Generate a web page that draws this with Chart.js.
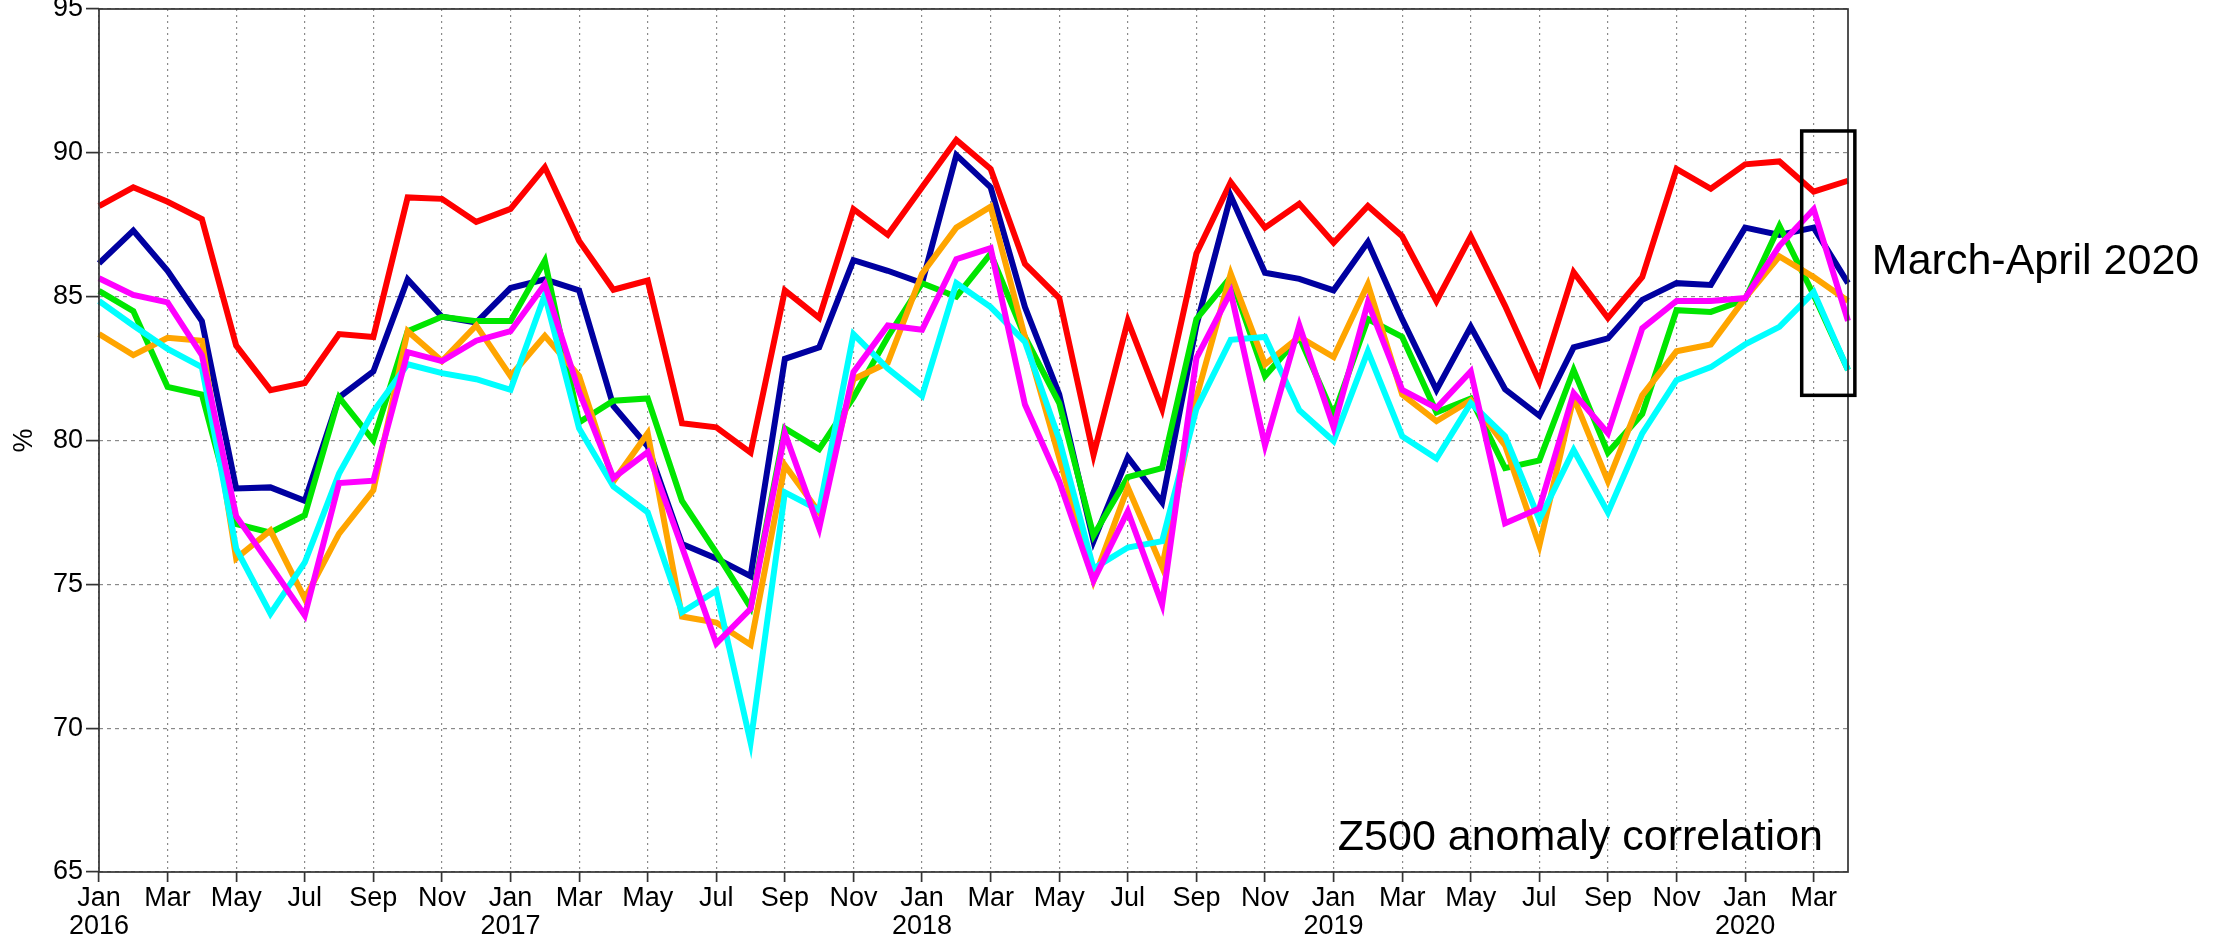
<!DOCTYPE html>
<html>
<head>
    <meta charset="UTF-8">
    <title>Z500 anomaly correlation</title>
    <script src="https://cdn.jsdelivr.net/npm/chart.js@4/dist/chart.umd.min.js"></script>
    <style type="text/css">
        body { margin: 0; background: #fff; }
        #wrap { width: 2228px; height: 943px; }
    </style>
</head>
<body>
<div id="wrap"><canvas id="chart" width="2228" height="943"></canvas></div>
<script type="text/javascript">
    // months Jan 2016 .. Apr 2020
    var monthNames = ["Jan", "Feb", "Mar", "Apr", "May", "Jun", "Jul", "Aug", "Sep", "Oct", "Nov", "Dec"];
    var years = [2016, 2017, 2018, 2019, 2020];
    var monthCount = 52;

    // y axis
    var yMin = 65, yMax = 95, yStep = 5;

    // series (anomaly correlation, %)
    var redValues = [88.15, 88.8, 88.3, 87.7, 83.3, 81.75, 82.0, 83.7, 83.6, 88.45, 88.4, 87.6,
        88.05, 89.5, 86.94, 85.24, 85.56, 80.6, 80.46, 79.58, 85.22, 84.26, 88.04, 87.15,
        88.8, 90.45, 89.44, 86.14, 84.95, 79.5, 84.16, 81.1, 86.5, 88.98, 87.4, 88.23,
        86.87, 88.15, 87.1, 84.85, 87.1, 84.68, 82.05, 85.85, 84.26, 85.68, 89.44, 88.75,
        89.6, 89.7, 88.65, 89.03];
    var navyValues = [86.16, 87.3, 85.9, 84.15, 78.33, 78.37, 77.9, 81.5, 82.4, 85.6, 84.3, 84.1,
        85.3, 85.6, 85.22, 81.2, 79.8, 76.4, 75.9, 75.28, 82.84, 83.24, 86.27, 85.9,
        85.47, 89.92, 88.8, 84.64, 81.6, 76.5, 79.42, 77.85, 84.0, 88.5, 85.83, 85.62,
        85.22, 86.9, 84.22, 81.76, 83.95, 81.78, 80.86, 83.24, 83.55, 84.89, 85.47, 85.41,
        87.4, 87.15, 87.4, 85.47];
    var greenValues = [85.2, 84.5, 81.86, 81.6, 77.1, 76.8, 77.4, 81.5, 80.0, 83.8, 84.3, 84.15,
        84.15, 86.25, 80.63, 81.38, 81.46, 77.9, 76.1, 74.2, 80.42, 79.7, 81.5, 83.6,
        85.47, 85.0, 86.5, 83.6, 81.3, 76.7, 78.73, 79.04, 84.22, 85.68, 82.24, 83.6,
        80.88, 84.22, 83.6, 80.98, 81.46, 79.04, 79.31, 82.45, 79.58, 80.92, 84.53, 84.47,
        84.9, 87.46, 85.06, 82.45];
    var orangeValues = [83.7, 82.97, 83.57, 83.47, 75.9, 76.87, 74.5, 76.76, 78.27, 83.8, 82.76, 84.0,
        82.24, 83.64, 82.24, 78.58, 80.25, 73.88, 73.67, 72.9, 79.14, 77.5, 82.13, 82.7,
        85.8, 87.4, 88.13, 83.6, 79.4, 75.13, 78.37, 75.6, 81.5, 85.8, 82.65, 83.6,
        82.9, 85.43, 81.6, 80.67, 81.4, 79.83, 76.35, 81.5, 78.58, 81.57, 83.1, 83.34,
        84.95, 86.4, 85.68, 84.85];
    var cyanValues = [84.85, 84.0, 83.18, 82.55, 76.24, 73.98, 75.76, 78.85, 81.0, 82.65, 82.34, 82.13,
        81.76, 85.06, 80.42, 78.4, 77.5, 74.03, 74.78, 69.5, 78.2, 77.58, 83.7, 82.5,
        81.55, 85.47, 84.64, 83.43, 80.04, 75.55, 76.28, 76.5, 81.1, 83.5, 83.6, 81.05,
        79.98, 83.1, 80.15, 79.37, 81.3, 80.15, 77.25, 79.67, 77.5, 80.25, 82.1, 82.55,
        83.34, 83.95, 85.16, 82.45];
    var magentaValues = [85.64, 85.06, 84.8, 82.97, 77.37, 75.66, 73.92, 78.52, 78.6, 83.07, 82.76, 83.47,
        83.8, 85.43, 81.7, 78.7, 79.6, 76.3, 72.94, 74.15, 80.25, 76.95, 82.38, 84.0,
        83.85, 86.3, 86.69, 81.25, 78.58, 75.13, 77.54, 74.3, 82.86, 85.16, 79.83, 84.0,
        80.46, 84.8, 81.76, 81.13, 82.4, 77.12, 77.64, 81.65, 80.25, 83.9, 84.85, 84.85,
        84.95, 86.77, 88.04, 84.16];

    // highlighted period box (month index / %)
    var boxFrom = 49.65, boxTo = 51.2, boxTop = 90.76, boxBottom = 81.57;
    var boxLabel = "March-April 2020";
    var boxLabelAt = 85.78;
    var titleText = "Z500 anomaly correlation";

    var FONT = '"Liberation Sans", Arial, sans-serif';

    // category labels: month on first line, year under January
    var labels = [];
    for (var i = 0; i < monthCount; i++) {
        var m = i % 12;
        if (m == 0) labels.push([monthNames[m], String(years[Math.floor(i / 12)])]);
        else labels.push(monthNames[m]);
    }

    function line(label, color, values) {
        return {
            label: label,
            data: values,
            borderColor: color,
            backgroundColor: color,
            borderWidth: 6,
            borderJoinStyle: 'miter',
            borderCapStyle: 'butt',
            pointRadius: 0,
            tension: 0,
            fill: false
        };
    }

    // frame, highlight box and texts
    var extras = {
        id: 'extras',
        afterDatasetsDraw: function (chart) {
            var ctx = chart.ctx, a = chart.chartArea;
            var xs = chart.scales.x, ys = chart.scales.y;
            ctx.save();
            ctx.strokeStyle = "#333";
            ctx.lineWidth = 1.7;
            ctx.strokeRect(a.left, a.top, a.right - a.left, a.bottom - a.top);

            var x0 = xs.getPixelForValue(boxFrom), x1 = xs.getPixelForValue(boxTo);
            var y0 = ys.getPixelForValue(boxTop), y1 = ys.getPixelForValue(boxBottom);
            ctx.strokeStyle = "#000";
            ctx.lineWidth = 3.5;
            ctx.strokeRect(x0, y0, x1 - x0, y1 - y0);

            ctx.fillStyle = "#000";
            ctx.font = "43px " + FONT;
            ctx.textBaseline = "alphabetic";
            ctx.textAlign = "right";
            ctx.fillText(titleText, a.right - 25, a.bottom - 22);
            ctx.textAlign = "left";
            ctx.fillText(boxLabel, x1 + 17, ys.getPixelForValue(boxLabelAt));
            ctx.restore();
        }
    };

    var gridGrey = "#8a8a8a";

    var chart = new Chart(document.getElementById("chart").getContext("2d"), {
        type: 'line',
        data: {
            labels: labels,
            datasets: [
                line("magenta", "#ff00ff", magentaValues),
                line("cyan", "#00ffff", cyanValues),
                line("orange", "#ffa500", orangeValues),
                line("green", "#00e600", greenValues),
                line("navy", "#0000a0", navyValues),
                line("red", "#ff0000", redValues)
            ]
        },
        options: {
            responsive: false,
            animation: false,
            layout: { padding: { top: 9, right: 380, bottom: 0, left: 0 } },
            plugins: {
                legend: { display: false },
                tooltip: { enabled: false }
            },
            scales: {
                x: {
                    offset: false,
                    border: { display: false, dash: [2, 4] },
                    grid: {
                        color: function (c) { return c.index % 2 == 0 ? gridGrey : 'rgba(0,0,0,0)'; },
                        tickColor: function (c) { return c.index % 2 == 0 ? '#333' : 'rgba(0,0,0,0)'; },
                        lineWidth: 1.2,
                        tickLength: 10,
                        tickWidth: 1.7
                    },
                    ticks: {
                        autoSkip: false,
                        maxRotation: 0,
                        minRotation: 0,
                        padding: 3,
                        color: "#000",
                        font: { family: FONT, size: 27, lineHeight: 1.02 },
                        callback: function (v, i) { return i % 2 == 0 ? labels[i] : ''; }
                    },
                    afterFit: function (s) { s.height = 71; }
                },
                y: {
                    min: yMin,
                    max: yMax,
                    border: { display: false, dash: [4, 4] },
                    grid: {
                        color: gridGrey,
                        tickColor: '#333',
                        lineWidth: 1.2,
                        tickLength: 13,
                        tickWidth: 1.7
                    },
                    ticks: {
                        stepSize: yStep,
                        padding: 3,
                        color: "#000",
                        font: { family: FONT, size: 27 }
                    },
                    title: {
                        display: true,
                        text: "%",
                        color: "#000",
                        padding: { top: 8, bottom: 0 },
                        font: { family: FONT, size: 27 }
                    },
                    afterFit: function (s) {
                        s.width = 99;
                        s.paddingTop = 0;
                        s.paddingBottom = 0;
                    }
                }
            }
        },
        plugins: [extras]
    });
</script>
</body>
</html>
